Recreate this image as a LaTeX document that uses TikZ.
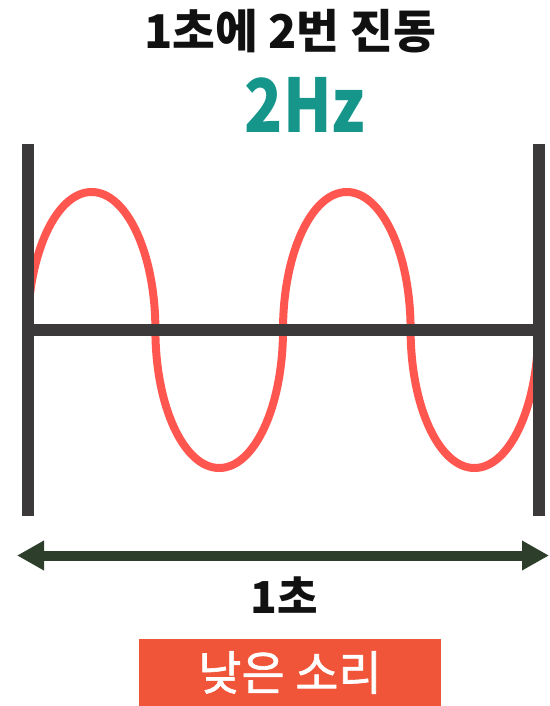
\documentclass[tikz,border=0pt]{standalone}
\usepackage{fontspec}
\setmainfont{Noto Sans CJK KR}
\newfontfamily\krmid{Noto Sans CJK KR}[FakeBold=1.4]
\usetikzlibrary{arrows.meta,positioning}
\definecolor{ink}{HTML}{111111}
\definecolor{barGray}{HTML}{3B393A}
\definecolor{waveRed}{HTML}{FF5750}
\definecolor{hzTeal}{HTML}{16968A}
\definecolor{spanGreen}{HTML}{2D3E2B}
\definecolor{tagRed}{HTML}{F0553A}
\tikzset{
  heading/.style={inner sep=0pt,font=\fontsize{46.5}{50}\selectfont\bfseries,text=ink},
  freq/.style={inner sep=0pt,font=\fontsize{74}{80}\selectfont\bfseries,text=hzTeal},
  unit/.style={inner sep=0pt,font=\fontsize{44}{48}\selectfont\bfseries,text=ink},
  tag/.style={fill=tagRed,minimum width=302pt,minimum height=67pt,inner sep=0pt,font=\fontsize{47}{52}\krmid,text=white},
  frame/.style={draw=barGray,line width=12pt},
  sine/.style={draw=waveRed,line width=8pt},
  span/.style={draw=spanGreen,line width=10pt,{Triangle[length=27pt,width=28pt]}-{Triangle[length=27pt,width=28pt]}}
}
\begin{document}
\begin{tikzpicture}[x=1pt,y=-1pt]
    \useasboundingbox (0,0) rectangle (549,706);
    \node[heading] (title) at (290,31) {1초에 2번 진동};
    \node[freq] (hz) at (305,105) {\scalebox{0.85}[1]{2Hz}};

    \coordinate (ltop) at (27.8,144);
    \coordinate (lbot) at (27.8,516);
    \coordinate (rtop) at (538.5,144);
    \coordinate (rbot) at (538.5,516);
    \coordinate (lmid) at (27.8,330);
    \coordinate (rmid) at (538.5,330);

    \draw[sine] (lmid) arc[start angle=180,end angle=360,x radius=63.8,y radius=138]
      arc[start angle=180,end angle=0,x radius=63.8,y radius=138]
      arc[start angle=180,end angle=360,x radius=63.8,y radius=138]
      arc[start angle=180,end angle=0,x radius=63.8,y radius=138];
    \draw[frame] (ltop) -- (lbot);
    \draw[frame] (rtop) -- (rbot);
    \draw[frame] (lmid) -- (rmid);

    \coordinate (sstart) at (17,555.5);
    \coordinate (send) at (549,555.5);
    \draw[span] (sstart) -- (send);
    \node[unit] (sec) at (284,595) {1초};
    \node[tag] (pitch) at (290,672.5) {낮은 소리};
  \end{tikzpicture}
\end{document}
